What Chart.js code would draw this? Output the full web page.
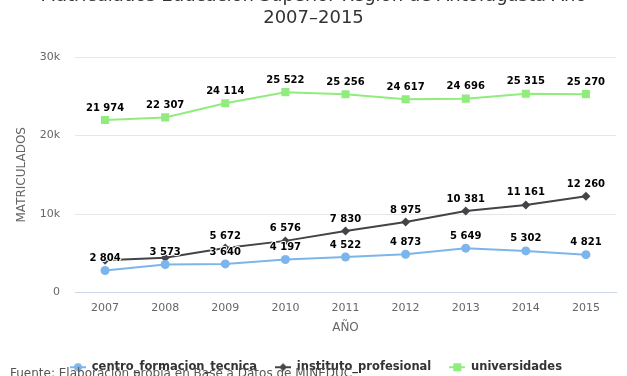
<!DOCTYPE html>
<html>
<head>
<meta charset="utf-8">
<script src="https://cdn.jsdelivr.net/npm/chart.js@4.4.1/dist/chart.umd.min.js"></script>
<style>
    html, body { margin: 0; padding: 0; background: #fff; }
    #wrap { width: 627px; height: 376px; position: relative; }
</style>
</head>
<body>
<div id="wrap"><canvas id="matriculasChart"></canvas></div>
<script>
const years = ['2007', '2008', '2009', '2010', '2011', '2012', '2013', '2014', '2015'];
const cftValues = [2804, 3573, 3640, 4197, 4522, 4873, 5649, 5302, 4821];
const institutoValues = [4100, 4420, 5672, 6576, 7830, 8975, 10381, 11161, 12260];
const universidadesValues = [21974, 22307, 24114, 25522, 25256, 24617, 24696, 25315, 25270];
const yTickValues = [0, 10000, 20000, 30000];
const seriesNames = ['centro_formacion_tecnica', 'instituto_profesional', 'universidades'];
const titleLines = ['Matriculados Educación Superior Región de Antofagasta Año', '2007–2015'];
const sourceText = 'Fuente: Elaboración propia en Base a Datos de MINEDUC';

const FONT = '"DejaVu Sans", sans-serif';
const colors = ['#7cb5ec', '#434348', '#90ed7d'];
const markers = ['circle', 'rectRot', 'rect'];
const markerRadius = [4.5, 4.5, 5.7];

const formatNumber = v => String(v).replace(/\B(?=(\d{3})+(?!\d))/g, ' ');

// small line + marker symbol for the legend
function legendSymbol(i) {
    const c = document.createElement('canvas');
    c.width = 16;
    c.height = 10;
    const g = c.getContext('2d');
    g.fillStyle = colors[i];
    g.strokeStyle = colors[i];
    g.lineWidth = 2;
    g.beginPath();
    g.moveTo(0, 5);
    g.lineTo(16, 5);
    g.stroke();
    g.beginPath();
    if (markers[i] === 'circle') {
        g.arc(8, 5, 4, 0, Math.PI * 2);
    } else if (markers[i] === 'rectRot') {
        g.moveTo(8, 1); g.lineTo(12, 5); g.lineTo(8, 9); g.lineTo(4, 5); g.closePath();
    } else {
        g.rect(4, 1, 8, 8);
    }
    g.fill();
    return c;
}

const textPlugin = {
    id: 'textPlugin',
    afterLayout(chart) {
        // nudge the legend row a little to the right
        if (chart.legend) {
            chart.legend.left += 8;
            chart.legend.right += 8;
        }
    },
    afterDraw(chart) {
        const ctx = chart.ctx;
        ctx.save();
        ctx.fillStyle = '#333333';
        ctx.font = '18px ' + FONT;
        ctx.textAlign = 'center';
        ctx.textBaseline = 'middle';
        ctx.fillText(titleLines[0], chart.width / 2, -4);
        ctx.fillText(titleLines[1], chart.width / 2, 18);

        ctx.fillStyle = '#555555';
        ctx.font = '12px ' + FONT;
        ctx.textAlign = 'left';
        ctx.fillText(sourceText, 10, 374);
        ctx.restore();
    }
};

// data labels, hidden when they would overlap one already drawn
const dataLabelPlugin = {
    id: 'dataLabels',
    afterDatasetsDraw(chart) {
        const ctx = chart.ctx;
        const boxes = [];
        ctx.save();
        ctx.font = 'bold 10px ' + FONT;
        ctx.textAlign = 'center';
        ctx.textBaseline = 'middle';
        ctx.lineJoin = 'round';
        chart.data.datasets.forEach((ds, di) => {
            const meta = chart.getDatasetMeta(di);
            meta.data.forEach((pt, i) => {
                const text = formatNumber(ds.data[i]);
                const w = ctx.measureText(text).width;
                const cy = pt.y - 12;
                const box = { l: pt.x - w / 2, r: pt.x + w / 2, t: cy - 7, b: cy + 7 };
                const hit = boxes.some(o => box.l < o.r && box.r > o.l && box.t < o.b && box.b > o.t);
                if (hit) return;
                boxes.push(box);
                ctx.strokeStyle = '#ffffff';
                ctx.lineWidth = 2;
                ctx.strokeText(text, pt.x, cy);
                ctx.fillStyle = '#000000';
                ctx.fillText(text, pt.x, cy);
            });
        });
        ctx.restore();
    }
};

const seriesValues = [cftValues, institutoValues, universidadesValues];

new Chart(document.getElementById('matriculasChart').getContext('2d'), {
    type: 'line',
    data: {
        labels: years,
        datasets: seriesValues.map((values, i) => ({
            label: seriesNames[i],
            data: values,
            borderColor: colors[i],
            backgroundColor: colors[i],
            borderWidth: 2,
            tension: 0,
            fill: false,
            pointStyle: markers[i],
            pointRadius: markerRadius[i],
            pointBorderWidth: 0,
            pointBackgroundColor: colors[i]
        }))
    },
    options: {
        responsive: true,
        maintainAspectRatio: false,
        animation: false,
        layout: {
            padding: { top: 57, right: 11, bottom: -7, left: 0 }
        },
        plugins: {
            title: { display: false },
            tooltip: { enabled: false },
            legend: {
                position: 'bottom',
                labels: {
                    usePointStyle: true,
                    pointStyleWidth: 16,
                    padding: 18,
                    color: '#333333',
                    font: { family: FONT, size: 11.5, weight: 'bold' },
                    generateLabels: chart => chart.data.datasets.map((ds, i) => ({
                        text: ds.label,
                        pointStyle: legendSymbol(i),
                        fillStyle: colors[i],
                        strokeStyle: colors[i],
                        lineWidth: 0,
                        hidden: false,
                        datasetIndex: i,
                        fontColor: '#333333'
                    }))
                }
            }
        },
        scales: {
            x: {
                offset: true,
                grid: { display: false, drawTicks: false },
                border: { display: true, color: '#ccd6eb', width: 1 },
                ticks: {
                    color: '#666666',
                    padding: 9,
                    font: { family: FONT, size: 11 },
                    maxRotation: 0
                },
                title: {
                    display: true,
                    text: 'AÑO',
                    color: '#666666',
                    font: { family: FONT, size: 12 },
                    padding: { top: 0, bottom: 8 }
                },
                afterFit: scale => { scale.height = 51; }
            },
            y: {
                min: 0,
                max: 30000,
                afterBuildTicks: scale => {
                    scale.ticks = yTickValues.map(v => ({ value: v }));
                },
                grid: { color: '#e6e6e6', drawTicks: false },
                border: { display: false },
                ticks: {
                    color: '#666666',
                    padding: 15,
                    font: { family: FONT, size: 11 },
                    callback: v => v === 0 ? '0' : (v / 1000) + 'k'
                },
                title: {
                    display: true,
                    text: 'MATRICULADOS',
                    color: '#666666',
                    font: { family: FONT, size: 12 },
                    padding: { top: 15, bottom: 0 }
                },
                afterFit: scale => { scale.width = 75; }
            }
        }
    },
    plugins: [dataLabelPlugin, textPlugin]
});
</script>
</body>
</html>
